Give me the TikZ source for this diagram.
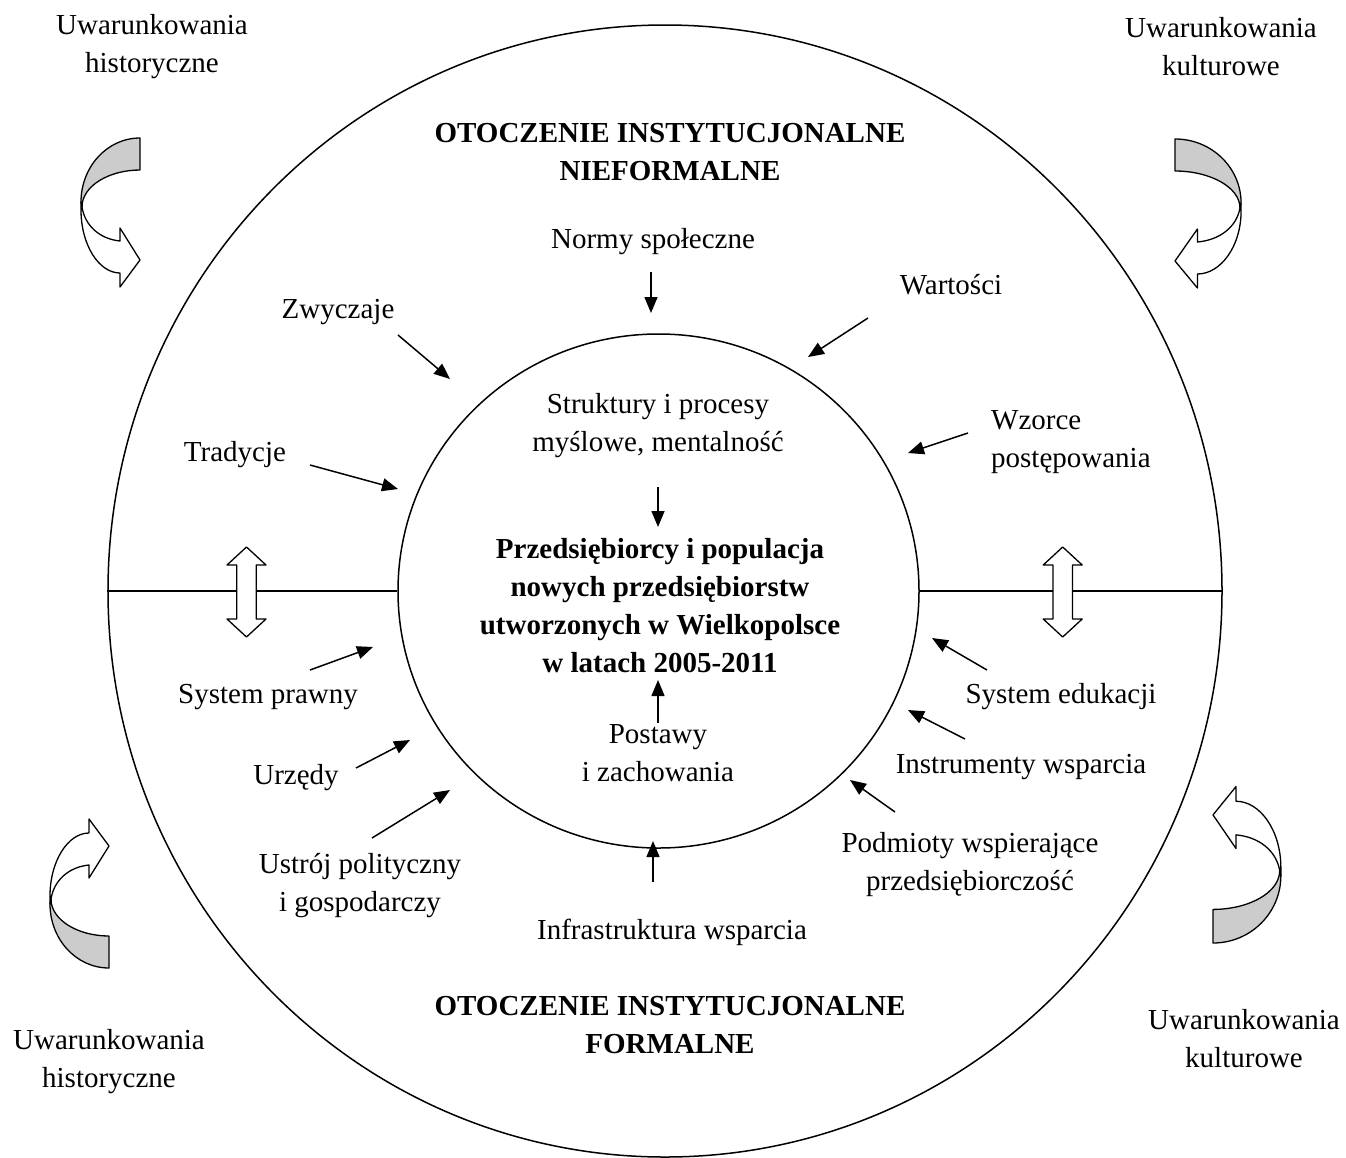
\documentclass[tikz,border=0pt]{standalone}
\usepackage{fontspec}
\setmainfont{Liberation Serif}
\usetikzlibrary{arrows.meta,shapes.geometric}
\begin{document}
\begin{tikzpicture}[x=1pt,y=-1pt,
  lbl/.style={font=\fontsize{29}{38}\selectfont, align=center, inner sep=0pt},
  ttl/.style={font=\fontsize{29}{38}\selectfont\bfseries, align=center, inner sep=0pt},
  arr/.style={line width=1.5pt, -{Triangle[length=16pt,width=13pt]}},
  ring/.style={draw, line width=1.5pt, ellipse, inner sep=0pt},
  band/.style={line width=1.3pt, line join=round},
  ]
\useasboundingbox (0,0) rectangle (1346,1157);

% circles
\node[ring, minimum width=1114pt, minimum height=1132pt] (outer) at (665,591) {};
\node[ring, minimum width=521pt, minimum height=514pt] (inner) at (658.5,591) {};
\draw[line width=1.5pt] (outer.west) -- (inner.west);
\draw[line width=1.5pt] (inner.east) -- (outer.east);

% double arrows
\foreach \cx in {246.5,1062.7}{
  \filldraw[fill=white, band, shift={(\cx,592)}]
    (0,-45) -- (19.5,-27) -- (9.7,-27) -- (9.7,27) -- (19.5,27) -- (0,45)
    -- (-19.5,27) -- (-9.7,27) -- (-9.7,-27) -- (-19.5,-27) -- cycle;
}

% curved arrows
\foreach \ax/\ay/\sx/\sy in {140/138/1/1, 1175/139/-1.12/1, 109/968/1/-1, 1213/943/-1.15/-1.05}{
  \begin{scope}[shift={(\ax,\ay)}, xscale=\sx, yscale=\sy]
    \filldraw[fill=gray!40, band] (0,0) .. controls (-33,0) and (-59,29) .. (-59,64)
      -- (-58,69) .. controls (-58,48) and (-31,32) .. (0,32) -- cycle;
    \filldraw[fill=white, band] (-59,64) -- (-59,72) .. controls (-59,107) and (-41,135) .. (-20,135)
      -- (-20,149) -- (0,122) -- (-20,90) -- (-20,103)
      .. controls (-40,101) and (-55,88) .. (-58,69) -- cycle;
  \end{scope}
}

% corner labels
\node[lbl] (uh1) at (152,47) {Uwarunkowania\\historyczne};
\node[lbl] (uk1) at (1221,47) {Uwarunkowania\\kulturowe};
\node[lbl] (uh2) at (109,1062) {Uwarunkowania\\historyczne};
\node[lbl] (uk2) at (1244,1039) {Uwarunkowania\\kulturowe};

% titles
\node[ttl] (tnf) at (670,152) {OTOCZENIE INSTYTUCJONALNE\\NIEFORMALNE};
\node[ttl] (tf) at (670,1025) {OTOCZENIE INSTYTUCJONALNE\\FORMALNE};

% informal labels
\node[lbl] (normy) at (653,242) {Normy społeczne};
\node[lbl] (wart) at (951,285) {Wartości};
\node[lbl] (zwy) at (338,312) {Zwyczaje};
\node[lbl, align=left, anchor=west] (wzo) at (991,442) {Wzorce\\postępowania};
\node[lbl] (trad) at (235,455) {Tradycje};

% inner labels
\node[lbl] (strukt) at (658,426) {Struktury i procesy\\myślowe, mentalność};
\node[ttl] (core) at (660,606) {Przedsiębiorcy i populacja\\nowych przedsiębiorstw\\utworzonych w Wielkopolsce\\w latach 2005-2011};
\node[lbl] (post) at (658,753) {Postawy\\i zachowania};

% formal labels
\node[lbl] (prawo) at (268,697) {System prawny};
\node[lbl] (urz) at (296,778) {Urzędy};
\node[lbl] (ustr) at (360,886) {Ustrój polityczny\\i gospodarczy};
\node[lbl] (infra) at (672,932) {Infrastruktura wsparcia};
\node[lbl] (podm) at (970,865) {Podmioty wspierające\\przedsiębiorczość};
\node[lbl] (instr) at (1021,767) {Instrumenty wsparcia};
\node[lbl] (edu) at (1061,697) {System edukacji};

% arrow end points
\coordinate (a1s) at (651,272);  \coordinate (a1e) at (651,313);
\coordinate (a2s) at (868,318);  \coordinate (a2e) at (808,357);
\coordinate (a3s) at (398,335);  \coordinate (a3e) at (450,379);
\coordinate (a4s) at (968,433);  \coordinate (a4e) at (908,453);
\coordinate (a5s) at (310,465);  \coordinate (a5e) at (398,489);
\coordinate (a6s) at (658,487);  \coordinate (a6e) at (658,527);
\coordinate (a7s) at (658,723);  \coordinate (a7e) at (658,680);
\coordinate (a8s) at (310,670);  \coordinate (a8e) at (373,647);
\coordinate (a9s) at (356,768);  \coordinate (a9e) at (410,740);
\coordinate (a10s) at (372,838); \coordinate (a10e) at (450,790);
\coordinate (a11s) at (653,882); \coordinate (a11e) at (653,841);
\coordinate (a12s) at (895,812); \coordinate (a12e) at (850,780);
\coordinate (a13s) at (965,739); \coordinate (a13e) at (908,710);
\coordinate (a14s) at (987,670); \coordinate (a14e) at (932,638);

\foreach \i in {1,...,14}{ \draw[arr] (a\i s) -- (a\i e); }
\end{tikzpicture}
\end{document}
